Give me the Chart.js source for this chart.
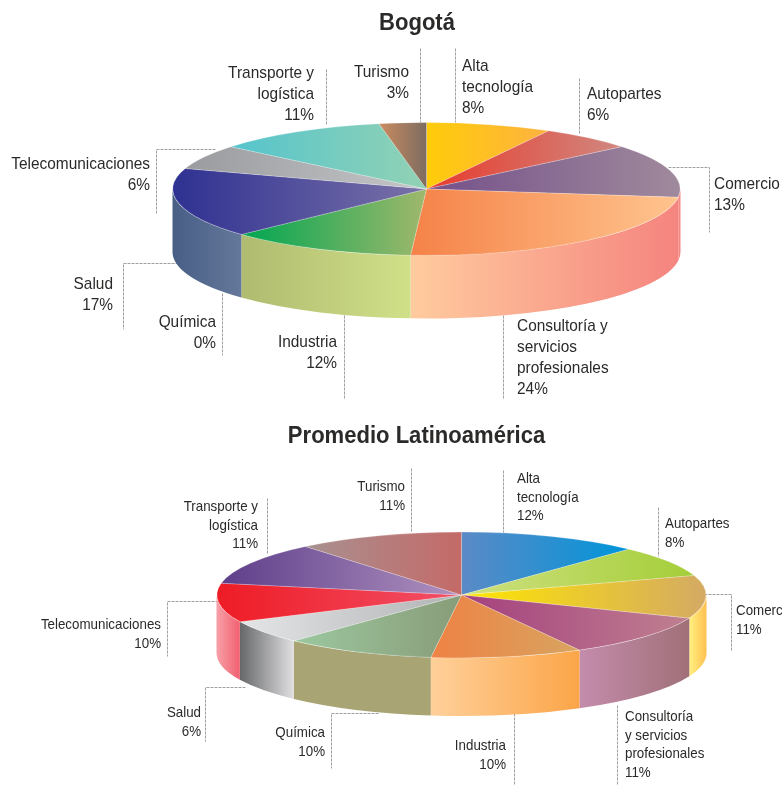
<!DOCTYPE html>
<html><head><meta charset="utf-8">
<style>html,body{margin:0;padding:0;background:#fff;overflow:hidden}canvas{position:absolute;left:0;top:0}</style>
<script src="https://cdn.jsdelivr.net/npm/chart.js@4"></script>
</head><body>
<canvas id="bog" width="782" height="786"></canvas>
<canvas id="lat" width="782" height="786"></canvas>
<script>
const categories = ["Alta tecnología","Autopartes","Comercio","Consultoría y servicios profesionales","Industria","Química","Salud","Telecomunicaciones","Transporte y logística","Turismo"];
const bogotaValues = [8,6,13,24,12,0,17,6,11,3];
const latamValues = [12,8,11,11,10,10,6,10,11,11];
const bogotaTitle = "Bogotá";
const latamTitle = "Promedio Latinoamérica";
const bogotaLabelLines = [["Alta","tecnología"],["Autopartes"],["Comercio"],["Consultoría y","servicios","profesionales"],["Industria"],["Química"],["Salud"],["Telecomunicaciones"],["Transporte y","logística"],["Turismo"]];
const latamLabelLines = [["Alta","tecnología"],["Autopartes"],["Comercio"],["Consultoría","y servicios","profesionales"],["Industria"],["Química"],["Salud"],["Telecomunicaciones"],["Transporte y","logística"],["Turismo"]];

// styles
const bogotaTop = [["#FFCC0A","#FDB240"],["#E83A2C","#D08880"],["#74508A","#A08A9C"],["#F58248","#FFC48E"],["#00A651","#A0B86C"],["#999","#999"],["#2F3192","#7A72A8"],["#9A9B9E","#C4C6C8"],["#55C4CC","#92D2B4"],["#CC8C60","#7C6C60"]];
const bogotaWall = [null,null,["#F58880","#F58880"],["#FFCB9E","#F5847F"],["#AFBB70","#D0E088"],null,["#485E86","#64789A"],null,null,null];
const latamTop = [["#5B8AC6","#0095DA"],["#CFE080","#A4CE39"],["#FFE600","#D4AA64"],["#A4407E","#C08090"],["#EE8244","#D8A460"],["#9CC8A0","#889C78"],["#E4E5E6","#B0B2B4"],["#EE1C25","#F25068"],["#5E3E8A","#B092C0"],["#A89090","#C46A68"]];
const latamWall = [null,null,["#FFF080","#FFC050"],["#C48CAC","#A07078"],["#FFD09A","#FBA548"],["#A8A474","#A8A474"],["#666769","#E0E0E2"],["#F8A0A8","#F06070"],null,null];

// layout of the annotations (pixels), separate from data
const bogotaLayout = {cx:426.5, cy:189, r:254, ry:66.5, depth:63, font:"16.4px", lh:21.3, titleY:23, titleX:417,
  leaders:[[[455,48],[455,122]],[[579,78],[579,133]],[[668,167],[709,167],[709,232]],[[503,315],[503,398]],[[344,315],[344,398]],[[222,293],[222,355]],[[178,263],[123,263],[123,329]],[[215,149],[156,149],[156,213]],[[326,69],[326,125]],[[420,48],[420,122]]],
  text:[[462,66,"left"],[587,94,"left"],[714,184,"left"],[517,326,"left"],[337,342,"right"],[216,322,"right"],[113,284,"right"],[150,164,"right"],[314,73,"right"],[409,72,"right"]]};
const latamLayout = {cx:461.5, cy:595, r:245, ry:63, depth:58, font:"14.2px", lh:18.7, titleY:436, titleX:416.5,
  leaders:[[[503,470],[503,532]],[[658,507],[658,556]],[[700,594],[731,594],[731,650]],[[617,705],[617,785]],[[514,713],[514,785]],[[378,713],[331,713],[331,768]],[[245,687],[205,687],[205,741]],[[222,601],[167,601],[167,656]],[[267,498],[267,553]],[[411,468],[411,532]]],
  text:[[517,479,"left"],[665,524,"left"],[736,611,"left"],[625,717,"left"],[506,746,"right"],[325,733,"right"],[201,713,"right"],[161,625,"right"],[258,507,"right"],[405,487,"right"]]};

const FONT = '"Liberation Sans"';
const TWO_PI = Math.PI*2;

function sliceExtent(a){
  let xs=[a.x, a.x+a.outerRadius*Math.cos(a.startAngle), a.x+a.outerRadius*Math.cos(a.endAngle)];
  for(const t of [-TWO_PI,0,TWO_PI]) if(a.startAngle<=t && a.endAngle>=t) xs.push(a.x+a.outerRadius);
  for(const t of [-Math.PI,Math.PI,3*Math.PI]) if(a.startAngle<=t && a.endAngle>=t) xs.push(a.x-a.outerRadius);
  return [Math.min(...xs),Math.max(...xs)];
}
function grad(ctx,x0,x1,c){
  const g=ctx.createLinearGradient(x0,0,x1,0);
  g.addColorStop(0,c[0]);g.addColorStop(1,c[1]);return g;
}
function squeezedText(ctx,s,x,y,sx){
  ctx.save();ctx.translate(x,y);ctx.scale(sx,1);ctx.fillText(s,0,0);ctx.restore();
}
function pie3d(L,topColors,wallColors,title,labelLines,values){
  return {
    id:'pie3d',
    beforeDatasetsDraw(chart){
      const ctx=chart.ctx, arcs=chart.getDatasetMeta(0).data, k=L.ry/L.r;
      arcs.forEach((a,i)=>{
        const w=wallColors[i];
        if(!w||a.endAngle<=a.startAngle) return;
        const s=Math.max(a.startAngle,0), e=Math.min(a.endAngle,Math.PI);
        if(e<=s) return;
        const x0=a.x+L.r*Math.cos(e), x1=a.x+L.r*Math.cos(s);
        ctx.beginPath();
        ctx.ellipse(a.x,L.cy,L.r,L.ry,0,s,e);
        ctx.ellipse(a.x,L.cy+L.depth,L.r,L.ry,0,e,s,true);
        ctx.closePath();
        ctx.fillStyle=grad(ctx,x0,x1,w);
        ctx.fill();
      });
      arcs.forEach((a,i)=>{
        const [x0,x1]=sliceExtent(a);
        a.options=Object.assign({},a.options,{backgroundColor:grad(ctx,x0,x1,topColors[i])});
      });
      ctx.save();
      const c=arcs[0].y;
      ctx.translate(0,L.cy);ctx.scale(1,k);ctx.translate(0,-c);
    },
    afterDatasetsDraw(chart){chart.ctx.restore();},
    beforeDraw(chart){
      const ctx=chart.ctx;
      ctx.save();
      ctx.strokeStyle='#a0a0a0';ctx.lineWidth=1;ctx.setLineDash([3,1]);
      L.leaders.forEach(p=>{
        ctx.beginPath();
        p.forEach((q,j)=>j?ctx.lineTo(q[0]+.5,q[1]+.5):ctx.moveTo(q[0]+.5,q[1]+.5));
        ctx.stroke();
      });
      ctx.restore();
    },
    afterDraw(chart){
      const ctx=chart.ctx;
      ctx.save();
      ctx.fillStyle='#2b2a29';ctx.textBaseline='middle';
      ctx.font='bold 24.5px '+FONT;ctx.textAlign='center';
      squeezedText(ctx,title,L.titleX,L.titleY,0.9);
      ctx.font=L.font+' '+FONT;
      L.text.forEach((t,i)=>{
        ctx.textAlign=t[2];
        const lines=labelLines[i].concat([values[i]+'%']);
        lines.forEach((s,j)=>squeezedText(ctx,s,t[0],t[1]+j*L.lh,0.94));
      });
      ctx.restore();
    }
  };
}
function make(id,L,values,topColors,wallColors,title,labelLines){
  new Chart(document.getElementById(id),{
    type:'pie',
    data:{labels:categories,datasets:[{data:values,backgroundColor:topColors.map(c=>c[0]),borderColor:'rgba(255,255,255,0.45)',borderWidth:0.8}]},
    options:{responsive:false,animation:false,rotation:0,
      layout:{padding:{left:L.cx-L.r,right:782-L.cx-L.r,top:393-L.r,bottom:393-L.r}},
      plugins:{legend:{display:false},tooltip:{enabled:false},title:{display:false}}},
    plugins:[pie3d(L,topColors,wallColors,title,labelLines,values)]
  });
}
make('bog',bogotaLayout,bogotaValues,bogotaTop,bogotaWall,bogotaTitle,bogotaLabelLines);
make('lat',latamLayout,latamValues,latamTop,latamWall,latamTitle,latamLabelLines);
</script>
</body></html>
